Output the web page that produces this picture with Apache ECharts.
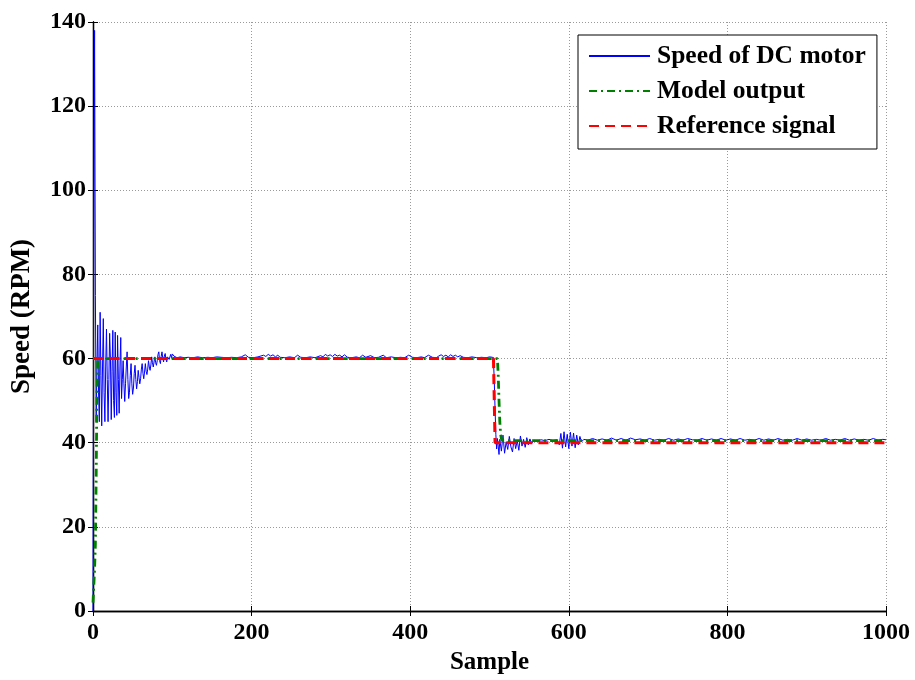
<!DOCTYPE html>
<html>
<head>
<meta charset="utf-8">
<script src="https://cdn.jsdelivr.net/npm/echarts@6/dist/echarts.min.js"></script>
<style>
  html, body { margin: 0; padding: 0; background: #fff; }
  #chart { width: 915px; height: 680px; }
</style>
</head>
<body>
<div id="chart"></div>
<script>
// Axis ticks
const xTicks = [0, 200, 400, 600, 800, 1000];
const yTicks = [0, 20, 40, 60, 80, 100, 120, 140];

// Measured motor speed, samples 0..100 (start-up transient)
const speedStartup = [
  0, 90, 138, 75, 45, 58, 68, 52, 45, 71,
  56, 44, 58, 69.5, 52, 45, 58, 67, 55, 45,
  55, 66, 60, 45.5, 57, 66.7, 50, 46, 66.3, 52,
  46.5, 65.5, 55, 47, 58, 65, 50.5, 55, 59.5, 54,
  49.8, 54, 58, 61.6, 55, 50.5, 52, 56, 58.8, 54,
  51.5, 53, 56.5, 58.4, 55, 52.8, 54.5, 57.2, 55.5, 54,
  55.2, 57.5, 58.8, 56.5, 55.2, 56.8, 58.8, 57, 56.2, 57.5,
  59.5, 58, 57.2, 58.5, 60.4, 59, 58, 59.2, 60.4, 59,
  58.4, 59.5, 61, 61.6, 59.5, 58.8, 60.5, 61.6, 60, 59.2,
  60.6, 61.2, 59.8, 59.2, 60.4, 60.8, 59.8, 60.2, 61, 60.2,
  61.1
];

// Measured motor speed after start-up: [sample, rpm]
const speedSteady = [
  [102,60.6],[106,60.2],[110,60.4],[115,60.2],[120,60.3],[126,60.2],[132,60.4],[138,60.2],
  [145,60.3],[150,60.2],[156,60.4],[162,60.3],[168,60.2],[175,60.3],[181,60.2],[187,60.4],
  [192,60.9],[196,60.3],[202,60.2],[208,60.4],[215,60.8],[218,60.5],[221,61.0],[224,60.6],
  [227,60.9],[230,60.4],[233,60.8],[236,60.3],[242,60.2],[248,60.4],[254,60.2],[258,60.8],
  [262,60.3],[268,60.2],[274,60.4],[280,60.2],[287,60.7],[290,60.4],[293,61.0],[296,60.6],
  [299,60.9],[302,60.5],[305,61.0],[308,60.6],[311,60.8],[314,60.4],[317,60.9],[321,60.3],
  [326,60.2],[332,60.4],[336,60.2],[340,60.8],[344,60.3],[350,60.7],[355,60.2],[360,60.3],
  [366,60.8],[370,60.2],[376,60.4],[382,60.2],[388,60.3],[393,60.2],[398,60.8],[403,60.3],
  [408,60.2],[414,60.4],[418,60.2],[423,60.8],[428,60.3],[433,60.2],[436,60.6],[439,60.9],
  [442,60.5],[445,60.8],[448,60.4],[451,60.9],[454,60.5],[457,60.8],[460,60.4],[463,60.7],
  [467,60.3],[472,60.2],[478,60.4],[484,60.2],[490,60.3],[496,60.2],[500,60.4],[504,60.3],
  [505,59.5],[506,55],[507,48],[508,42],[509,38.5],[510,41],[512,37.2],[513,40.8],
  [515,38],[517,41.8],[519,37.5],[521,40.2],[523,38.4],[525,41.5],[527,39],[529,37.8],
  [531,41],[533,38.6],[535,40.5],[537,38.2],[539,41.6],[541,39.2],[543,40.8],[545,38.9],
  [547,41.2],[549,39.5],[551,40.9],[553,39.8],[556,40.6],[560,40.4],[565,40.7],[570,40.5],
  [575,40.8],[580,40.5],[585,40.7],[588,39.5],[590,42.2],[592,38.7],[594,42.6],[596,39],
  [598,42],[600,38.6],[602,42.5],[604,39.2],[606,42.3],[608,38.8],[610,41.8],[612,39.5],
  [614,41.5],[616,40.2],[619,40.8],[624,40.6],[630,41.0],[636,40.6],[642,40.9],[648,40.6],
  [654,41.1],[660,40.6],[666,41.0],[672,40.6],[678,41.1],[684,40.7],[690,40.9],[696,40.6],
  [702,41.0],[708,40.6],[714,40.8],[720,40.6],[726,41.0],[732,40.6],[738,40.9],[744,40.6],
  [750,41.0],[756,40.7],[762,40.6],[768,41.0],[774,40.6],[780,40.9],[786,40.6],[792,41.0],
  [798,40.6],[804,40.9],[810,40.6],[816,41.0],[822,40.6],[828,40.8],[834,40.6],[840,41.0],
  [846,40.6],[852,40.9],[858,40.6],[864,41.0],[870,40.6],[876,40.8],[882,40.6],[888,41.0],
  [894,40.6],[900,40.9],[906,40.6],[912,40.8],[918,40.6],[924,41.0],[930,40.6],[936,40.8],
  [942,40.6],[948,41.0],[954,40.6],[960,40.9],[966,40.6],[972,40.8],[978,40.6],[984,41.0],
  [990,40.6],[996,40.8],[1000,40.7]
];

// Reference model output: [sample, rpm]
const modelOutput = [
  [0,2],[1,6],[2,10],[3,16],[4,32],[5,52],[6,60],
  [510,60],[511,56],[512,50],[513,45],[514,42],[515,41],[516,40.5],[1000,40.5]
];

// Reference (set-point) signal: [sample, rpm]
const referenceSignal = [[0,60],[505,60],[507,40],[1000,40]];

const speedData = speedStartup.map((v, i) => [i, v]).concat(speedSteady);

const FONT = '"Liberation Serif", "Times New Roman", serif';

const chart = echarts.init(document.getElementById('chart'), null, { renderer: 'canvas' });

const gridLine = { show: true, lineStyle: { color: '#9a9a9a', type: [1, 2], width: 1 } };
const axisLine = { show: true, lineStyle: { color: '#000', width: 1.3 } };
const tickIn = { show: true, inside: true, length: 5, lineStyle: { color: '#000', width: 1 } };
const plain = v => String(v);

chart.setOption({
  animation: false,
  backgroundColor: '#fff',
  grid: { left: 93, right: 29, top: 22, bottom: 67, containLabel: false },
  legend: {
    orient: 'vertical',
    left: 578,
    top: 35,
    width: 298,
    padding: [8, 11, 10, 10],
    itemWidth: 61,
    itemHeight: 14,
    itemGap: 9,
    backgroundColor: '#fff',
    borderColor: '#000',
    borderWidth: 1,
    borderRadius: 0,
    itemStyle: { opacity: 0 },
    textStyle: { fontFamily: FONT, fontWeight: 'bold', fontSize: 25.5, color: '#000', padding: [0, 0, 0, 2] },
    data: ['Speed of DC motor', 'Model output', 'Reference signal']
  },
  xAxis: [
    {
      type: 'value', min: 0, max: 1000, interval: 200,
      name: 'Sample', nameLocation: 'middle', nameGap: 39,
      nameTextStyle: { fontFamily: FONT, fontWeight: 'bold', fontSize: 25, color: '#000' },
      axisLine, axisTick: tickIn, splitLine: gridLine,
      axisLabel: { fontFamily: FONT, fontWeight: 'bold', fontSize: 24, color: '#000', margin: 10,
        customValues: xTicks, formatter: plain }
    },
    {
      type: 'value', position: 'top', min: 0, max: 1000, interval: 200,
      axisLine, axisTick: tickIn, axisLabel: { show: false }, splitLine: { show: false }
    }
  ],
  yAxis: [
    {
      type: 'value', min: 0, max: 140, interval: 20,
      name: 'Speed (RPM)', nameLocation: 'middle', nameGap: 57, nameRotate: 90,
      nameTextStyle: { fontFamily: FONT, fontWeight: 'bold', fontSize: 27, color: '#000' },
      axisLine, axisTick: tickIn, splitLine: gridLine,
      axisLabel: { fontFamily: FONT, fontWeight: 'bold', fontSize: 24, color: '#000', margin: 7,
        customValues: yTicks, formatter: plain }
    },
    {
      type: 'value', position: 'right', min: 0, max: 140, interval: 20,
      axisLine, axisTick: tickIn, axisLabel: { show: false }, splitLine: { show: false }
    }
  ],
  series: [
    {
      name: 'Speed of DC motor', type: 'line', data: speedData,
      symbol: 'none', showSymbol: false,
      lineStyle: { color: '#0000ff', width: 1 }, itemStyle: { color: '#0000ff' },
      z: 2
    },
    {
      name: 'Model output', type: 'line', data: modelOutput,
      symbol: 'none', showSymbol: false,
      lineStyle: { color: '#008000', width: 2.8, type: [8, 4, 2, 4] }, itemStyle: { color: '#008000' },
      z: 3
    },
    {
      name: 'Reference signal', type: 'line', data: referenceSignal,
      symbol: 'none', showSymbol: false,
      lineStyle: { color: '#ff0000', width: 3, type: [10, 6] }, itemStyle: { color: '#ff0000' },
      z: 4
    }
  ]
});
</script>
</body>
</html>
